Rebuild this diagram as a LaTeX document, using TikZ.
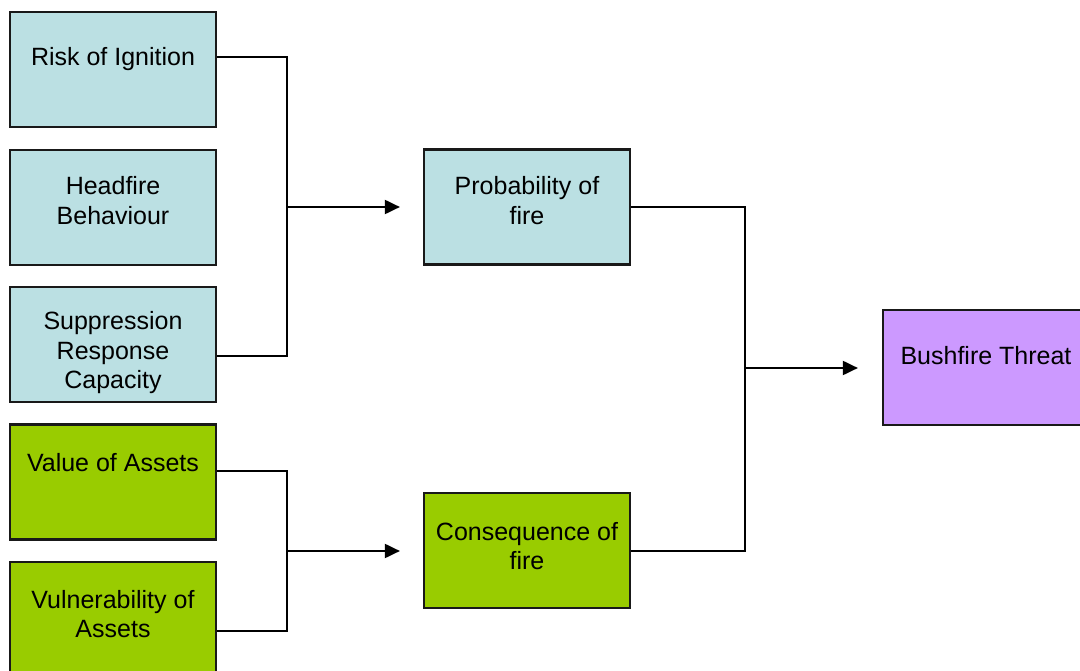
\documentclass[tikz,border=0pt]{standalone}
\usepackage{fontspec}
\setmainfont{Liberation Sans}
\usetikzlibrary{arrows.meta}
\definecolor{boxblue}{HTML}{BBE0E3}
\definecolor{boxgreen}{HTML}{99CC00}
\definecolor{boxpurple}{HTML}{CC99FF}
\tikzset{
  box/.style={draw=black!90, line width=2.2pt, minimum width=206pt, minimum height=115pt, inner sep=0pt, fill=#1},
  txt/.style={anchor=base, align=center, inner sep=0pt, font=\fontsize{25pt}{29.5pt}\selectfont},
  conn/.style={draw=black, line width=2pt},
  arr/.style={conn, -{Triangle[length=15pt,width=14pt]}}
}
\begin{document}
\begin{tikzpicture}[x=1pt,y=-1pt]
\clip (0,0) rectangle (1080,671);
\fill[white] (0,0) rectangle (1080,671);
% boxes
\node[box=boxblue] (risk) at (113,69.5) {};
\node[box=boxblue] (head) at (113,207.5) {};
\node[box=boxblue] (supp) at (113,344.5) {};
\node[box=boxgreen] (value) at (113,482) {};
\node[box=boxgreen] (vuln) at (113,619.5) {};
\node[box=boxblue] (prob) at (527,207) {};
\node[box=boxgreen] (cons) at (527,550.5) {};
\node[box=boxpurple] (bush) at (986,367.5) {};
% texts (base anchor = baseline of last line)
\node[txt] (risk-t) at (113,66) {Risk of Ignition};
\node[txt] (head-t) at (113,224.5) {Headfire\\Behaviour};
\node[txt] (supp-t) at (113,388.5) {Suppression\\Response\\Capacity};
\node[txt] (value-t) at (113,471) {Value of Assets};
\node[txt] (vuln-t) at (113,637.5) {Vulnerability of\\Assets};
\node[txt] (prob-t) at (527,224.5) {Probability of\\fire};
\node[txt] (cons-t) at (527,569.5) {Consequence of\\fire};
\node[txt] (bush-t) at (986,364) {Bushfire Threat};
% junctions
\coordinate (j1) at (287,207);
\coordinate (j2) at (287,551);
\coordinate (j3) at (745,368);
% connectors
\draw[conn] ([yshift=12.5pt]risk.east) -| (j1) |- ([yshift=-11.5pt]supp.east);
\draw[arr] (j1) -- ([xshift=-23pt]prob.west);
\draw[conn] ([yshift=11pt]value.east) -| (j2) |- ([yshift=-11.5pt]vuln.east);
\draw[arr] (j2) -- ([xshift=-23pt,yshift=-0.5pt]cons.west);
\draw[conn] (prob.east) -| (j3) |- (cons.east);
\draw[arr] (j3) -- ([xshift=-24pt,yshift=-0.5pt]bush.west);
\end{tikzpicture}
\end{document}
